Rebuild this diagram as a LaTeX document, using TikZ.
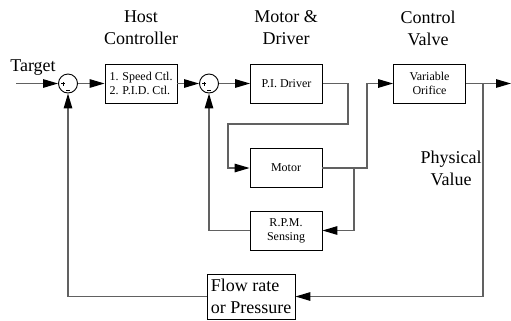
\documentclass[tikz,border=0pt]{standalone}
\usepackage{fontspec}
\setmainfont{Liberation Serif}
\usetikzlibrary{arrows.meta}
\begin{document}
\begin{tikzpicture}[x=1bp,y=-1bp,
  big/.style={font=\fontsize{18bp}{22bp}\selectfont, align=center, inner sep=0pt},
  blk/.style={draw=black, line width=0.8bp, minimum width=72bp, minimum height=39bp,
    inner sep=1bp, align=center, font=\fontsize{12bp}{14bp}\selectfont},
  sumj/.style={draw=black, line width=0.9bp, circle, minimum size=19bp, inner sep=0pt},
  wire/.style={draw=black!62, line width=1.3bp},
  arr/.style={wire, -{Triangle[length=15bp,width=8.5bp,color=black]}}]
\useasboundingbox (0,0) rectangle (511,320);
% titles
\node[big] (t1) at (141,28) {Host\\Controller};
\node[big] (t2) at (286,28) {Motor \&\\Driver};
\node[big] (t3) at (428,28) {Control\\Valve};
\node[big, anchor=base] (tg) at (33,71) {Target};
\node[big] (pv) at (451,168) {Physical\\Value};
% blocks
\node[sumj] (s1) at (68,83.5) {};
\node[sumj] (s2) at (209,83.5) {};
\node[blk, align=left] (hc) at (141,83.5) {1. Speed Ctl.\\2. P.I.D. Ctl.};
\node[blk] (pid) at (286.5,83.5) {P.I. Driver};
\node[blk] (mot) at (286,168) {Motor};
\node[blk] (rpm) at (286,230.5) {R.P.M.\\Sensing};
\node[blk] (vo) at (429.5,83.5) {Variable\\Orifice};
\node[draw=black, line width=0.8bp, minimum width=88bp, minimum height=45bp,
  inner sep=3bp, align=left, font=\fontsize{18bp}{22bp}\selectfont] (fl) at (251,296.5)
  {Flow rate\\or Pressure};
% signs in summing junctions
\foreach \s in {s1,s2}{
  \draw[line width=0.6bp] ([xshift=-7bp]\s.center) -- ([xshift=-3bp]\s.center)
     ([xshift=-5bp,yshift=-2bp]\s.center) -- ([xshift=-5bp,yshift=2bp]\s.center);
  \draw[line width=0.9bp] ([xshift=-2bp,yshift=-6.5bp]\s.center) -- ([xshift=2bp,yshift=-6.5bp]\s.center);
}
% coordinates
\coordinate (in) at (16,83.5);
\coordinate (out) at (511,83.5);
\coordinate (c1) at (348,124);
\coordinate (c2) at (228,124);
\coordinate (c3) at (367,168);
\coordinate (j1) at (354,168);
\coordinate (j2) at (483,83.5);
% connectors
\draw[arr] (in) -- (s1.west);
\draw[arr] (s1.east) -- (hc.west);
\draw[arr] (hc.east) -- (s2.west);
\draw[arr] (s2.east) -- (pid.west);
\draw[arr] (pid.east) -| (c1) -- (c2) |- (mot.west);
\draw[arr] (mot.east) -- (c3) |- (vo.west);
\draw[arr] (j1) |- (rpm.east);
\draw[arr] (rpm.west) -| (s2.south);
\draw[arr] (vo.east) -- (out);
\draw[arr] (j2) |- (fl.east);
\draw[arr] (fl.west) -| (s1.south);
\end{tikzpicture}
\end{document}
